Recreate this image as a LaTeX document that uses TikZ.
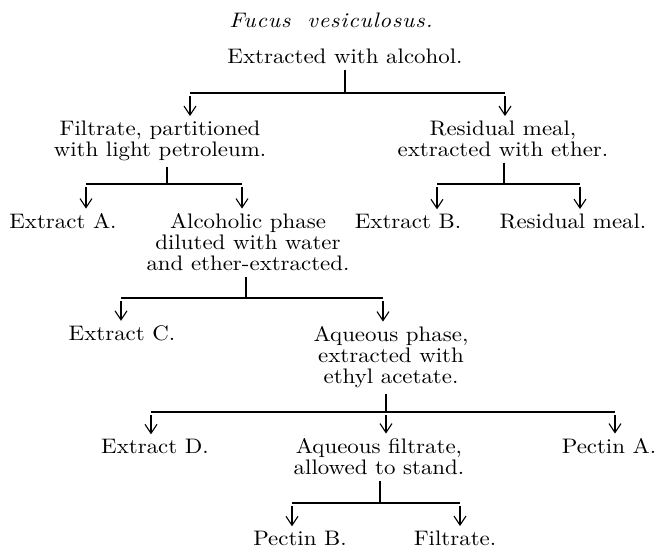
\documentclass[tikz,border=0pt]{standalone}
\usepackage{fontspec}
\setmainfont{lmroman10-regular.otf}[FakeStretch=1.09, ItalicFont=lmroman10-italic.otf]
\usepackage{tikz}
\usetikzlibrary{arrows.meta}

\begin{document}
\begin{tikzpicture}[x=0.5pt, y=-0.5pt, >={Straight Barb[length=4.5pt,width=6pt]},
    every node/.style={inner sep=0pt, align=center, anchor=base, font=\fontsize{10.5}{10.5}\selectfont},
    stem/.style={line width=0.55pt, shorten <=3pt},
    bar/.style={line width=0.55pt},
    arr/.style={->, line width=0.55pt, shorten <=1.5pt, shorten >=2pt}]
      \useasboundingbox (0,0) rectangle (655,548);
      % heading and first extraction
      \node (title) at (331,27) {\itshape\addfontfeatures{LetterSpace=4}Fucus\hspace{4pt} vesiculosus.};
      \node (alc) at (345,63) {Extracted with alcohol.};
      \coordinate (j1) at (345,93);
      \coordinate (b1l) at (190,93);
      \coordinate (b1r) at (505,93);
      \node (fil) at (160,156) {Filtrate, partitioned\\with light petroleum.};
      \node (res) at (503,156) {Residual meal,\\extracted with ether.};
      \draw[stem] (alc.south -| j1) -- (j1);
      \draw[bar] (b1l) -- (b1r);
      \draw[arr] (b1l) -- (b1l |- fil.north);
      \draw[arr] (b1r) -- (b1r |- res.north);
      % light petroleum / ether
      \coordinate (j2) at (167,184);
      \coordinate (b2l) at (86,184);
      \coordinate (b2r) at (242,184);
      \coordinate (j3) at (504,184);
      \coordinate (b3l) at (437,184);
      \coordinate (b3r) at (580,184);
      \node (exa) at (63,228) {Extract A.};
      \node (alp) at (248,270) {Alcoholic phase\\diluted with water\\and ether-extracted.};
      \node (exb) at (408,228) {Extract B.};
      \node (rsm) at (573,228) {Residual meal.};
      \draw[stem] (fil.south -| j2) -- (j2);
      \draw[bar] (b2l) -- (b2r);
      \draw[arr] (b2l) -- (b2l |- exa.north);
      \draw[arr] (b2r) -- (b2r |- alp.north);
      \draw[stem] (res.south -| j3) -- (j3);
      \draw[bar] (b3l) -- (b3r);
      \draw[arr] (b3l) -- (b3l |- exb.north);
      \draw[arr] (b3r) -- (b3r |- rsm.north);
      % ether extraction of alcoholic phase
      \coordinate (j4) at (246,298);
      \coordinate (b4l) at (121,298);
      \coordinate (b4r) at (383,298);
      \node (exc) at (122,340) {Extract C.};
      \node (aqp) at (391,383) {Aqueous phase,\\extracted with\\ethyl acetate.};
      \draw[stem] (alp.south -| j4) -- (j4);
      \draw[bar] (b4l) -- (b4r);
      \draw[arr] (b4l) -- (b4l |- exc.north);
      \draw[arr] (b4r) -- (b4r |- aqp.north);
      % ethyl acetate
      \coordinate (j5) at (386,412);
      \coordinate (b5l) at (151,412);
      \coordinate (b5r) at (615,412);
      \node (exd) at (155,453) {Extract D.};
      \node (aqf) at (379,474) {Aqueous filtrate,\\allowed to stand.};
      \node (pea) at (609,453) {Pectin A.};
      \draw[stem] (aqp.south -| j5) -- (j5);
      \draw[bar] (b5l) -- (b5r);
      \draw[arr] (b5l) -- (b5l |- exd.north);
      \draw[arr] (j5) -- (j5 |- aqf.north);
      \draw[arr] (b5r) -- (b5r |- pea.north);
      % standing
      \coordinate (j6) at (380,503);
      \coordinate (b6l) at (292,503);
      \coordinate (b6r) at (460,503);
      \node (peb) at (300,545) {Pectin B.};
      \node (flt) at (455,545) {Filtrate.};
      \draw[stem] (aqf.south -| j6) -- (j6);
      \draw[bar] (b6l) -- (b6r);
      \draw[arr] (b6l) -- (b6l |- peb.north);
      \draw[arr] (b6r) -- (b6r |- flt.north);
    \end{tikzpicture}
\end{document}
